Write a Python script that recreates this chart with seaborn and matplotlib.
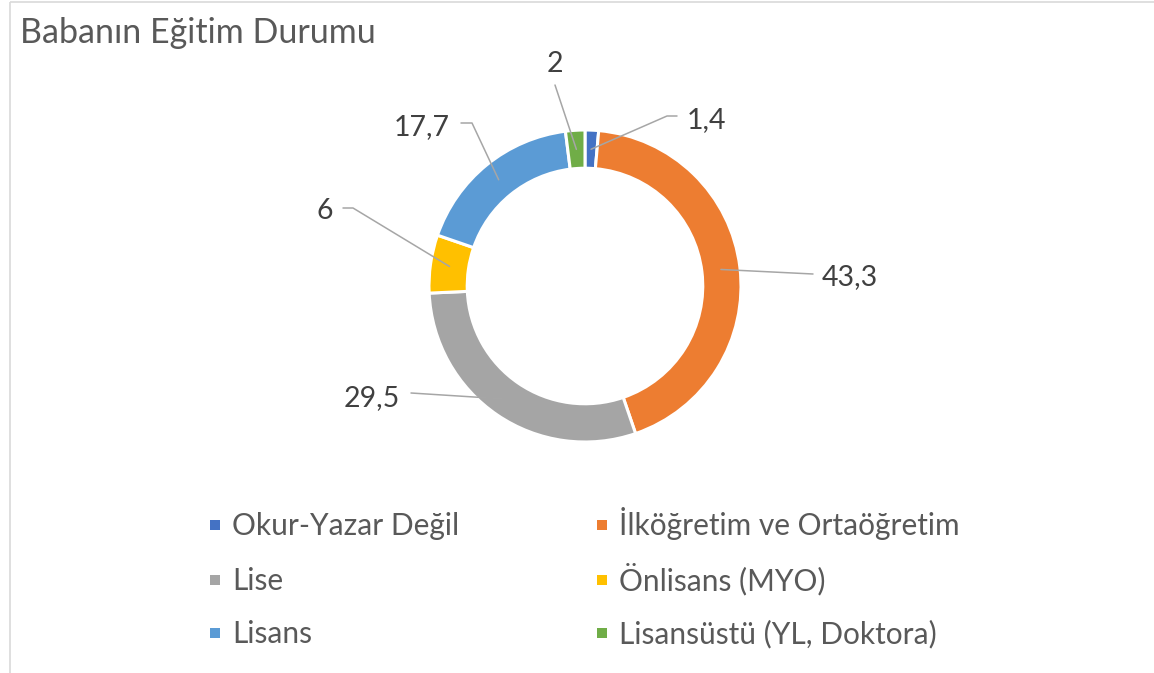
import numpy as np
import pandas as pd
import matplotlib
matplotlib.use("Agg")
import matplotlib.pyplot as plt
from matplotlib.patches import Rectangle
import seaborn as sns

# ---- data ----
categories = ["Okur-Yazar Değil", "İlköğretim ve Ortaöğretim", "Lise",
              "Önlisans (MYO)", "Lisans", "Lisansüstü (YL, Doktora)"]
values = [1.4, 43.3, 29.5, 6, 17.7, 2]
value_labels = ["1,4", "43,3", "29,5", "6", "17,7", "2"]
colors = ["#4472C4", "#ED7D31", "#A5A5A5", "#FFC000", "#5B9BD5", "#70AD47"]
title = "Babanın Eğitim Durumu"

df = pd.DataFrame({"category": categories, "value": values, "label": value_labels})

sns.set_theme(style="white")
plt.rcParams["font.family"] = ["Lato", "DejaVu Sans"]

W, H = 1154, 673
fig = plt.figure(figsize=(W / 100, H / 100), dpi=100)
fig.patch.set_facecolor("white")

# donut axes: center (585, 286) px, radius 156 px
cx, cy, R = 585, 286, 156
half = 1.2 * R
ax = fig.add_axes([(cx - half) / W, (H - cy - half) / H, 2 * half / W, 2 * half / H])
ring_w = 0.245
wedges, _ = ax.pie(df["value"], colors=colors, startangle=90, counterclock=False,
                   radius=1.0, wedgeprops=dict(width=ring_w, edgecolor="white", linewidth=2.2))
ax.set_xlim(-1.2, 1.2)
ax.set_ylim(-1.2, 1.2)
ax.set_aspect("equal")
ax.axis("off")

# overlay in pixel coordinates (y downward)
ov = fig.add_axes([0, 0, 1, 1], zorder=5)
ov.set_xlim(0, W)
ov.set_ylim(H, 0)
ov.axis("off")
ov.patch.set_alpha(0)

# chart border (top and left visible)
ov.plot([10, 10], [2, H + 5], color="#D9D9D9", lw=1.2, solid_capstyle="butt")
ov.plot([10, W + 5], [2, 2], color="#D9D9D9", lw=1.2, solid_capstyle="butt")

ov.text(20, 43, title, fontsize=24.5, color="#595959", ha="left", va="baseline")

# anchors from wedge mid-angles
total = df["value"].sum()
cum = np.cumsum(df["value"]) - df["value"] / 2
fig.canvas.draw()
anchors = []
for c in cum:
    ang = np.deg2rad(90 - c / total * 360)
    r = 1 - ring_w / 2
    dx, dy = ax.transData.transform((r * np.cos(ang), r * np.sin(ang)))
    anchors.append((dx, H - dy))

# label layout: (text x, baseline y, ha, leader path points from label side)
label_layout = [
    (687, 128, "left", [(677, 116), (667, 116)]),
    (822, 285, "left", [(813, 274)]),
    (400, 406, "right", [(411, 393)]),
    (333, 219, "right", [(343, 208), (353, 208)]),
    (450, 135, "right", [(461, 123), (472, 123)]),
    (555, 72, "center", [(555, 85)]),
]
for (lx, ly, ha, pts), (axp, ayp), txt in zip(label_layout, anchors, df["label"]):
    xs = [p[0] for p in pts] + [axp]
    ys = [p[1] for p in pts] + [ayp]
    ov.plot(xs, ys, color="#A6A6A6", lw=1.1)
    ov.text(lx, ly, txt, fontsize=20.5, color="#404040", ha=ha, va="baseline")

# legend (row-wise order, two columns)
leg_x = [210, 597]
leg_y = [525, 580, 633]
for i, (cat, col) in enumerate(zip(categories, colors)):
    r_, c_ = divmod(i, 2)
    x0, y0 = leg_x[c_], leg_y[r_]
    ov.add_patch(Rectangle((x0, y0 - 5), 10, 10, facecolor=col, edgecolor="none"))
    ov.text(x0 + 22, y0 + 10, cat, fontsize=21.5, color="#595959", ha="left", va="baseline")

fig.savefig("out.png", dpi=100)
